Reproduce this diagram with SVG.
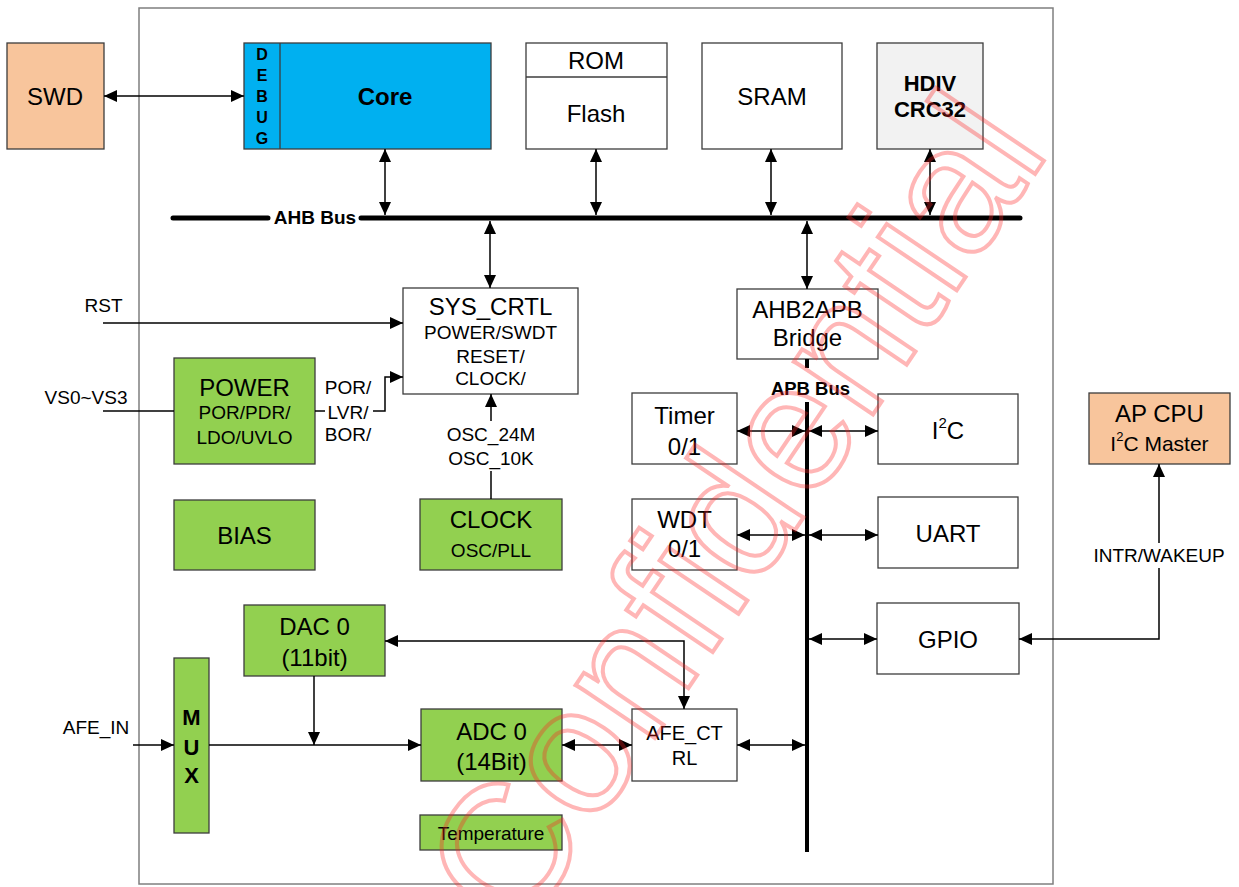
<svg xmlns="http://www.w3.org/2000/svg" width="1239" height="887" viewBox="0 0 1239 887">
<defs>
<style>
.bx{fill:#fff;stroke:#3c3c3c;stroke-width:1.3}
.gr{fill:#92D050;stroke:#3c3c3c;stroke-width:1.3}
.pe{fill:#F8C59C;stroke:#3c3c3c;stroke-width:1.3}
.bl{fill:#00B0F0;stroke:#3c3c3c;stroke-width:1.3}
.gy{fill:#F2F2F2;stroke:#3c3c3c;stroke-width:1.3}
text{font-family:"Liberation Sans",Arial,sans-serif;fill:#000;text-anchor:middle;dominant-baseline:central}
.b{font-weight:bold}
.s24{font-size:24px}
.s20{font-size:20px}
.s19{font-size:19px}
.ln{fill:none;stroke:#000;stroke-width:1.5}
.ar{marker-end:url(#ah)}
.ar2{marker-start:url(#ah);marker-end:url(#ah)}
.bus{fill:none;stroke:#000;stroke-width:5;stroke-linecap:round}
</style>
<marker id="ah" viewBox="0 0 13 12" refX="13" refY="6" markerWidth="13" markerHeight="12" markerUnits="userSpaceOnUse" orient="auto-start-reverse">
<path d="M0,0 L13,6 L0,12 z" fill="#000"/>
</marker>
</defs>
<rect x="139" y="8" width="914" height="876" fill="#fff" stroke="#7f7f7f" stroke-width="1.5"/>

<g id="swd"><rect class="pe" x="7" y="43" width="97" height="106"/><text class="s24" x="55" y="96">SWD</text></g>
<g id="core">
<rect class="bl" x="244" y="43" width="247" height="106"/>
<line x1="280" y1="43" x2="280" y2="149" stroke="#3c3c3c" stroke-width="1.3"/>
<text class="b" style="font-size:16px" x="262" y="54">D</text>
<text class="b" style="font-size:16px" x="262" y="75">E</text>
<text class="b" style="font-size:16px" x="262" y="96">B</text>
<text class="b" style="font-size:16px" x="262" y="117">U</text>
<text class="b" style="font-size:16px" x="262" y="138">G</text>
<text class="b s24" x="385" y="96">Core</text>
</g>
<g id="romflash"><rect class="bx" x="526" y="43" width="141" height="106"/><line x1="526" y1="77" x2="667" y2="77" stroke="#3c3c3c" stroke-width="1.3"/>
<text class="s24" x="596" y="60">ROM</text><text class="s24" x="596" y="113">Flash</text></g>
<g id="sram"><rect class="bx" x="702" y="43" width="140" height="106"/><text class="s24" x="772" y="96">SRAM</text></g>
<g id="hdiv"><rect class="gy" x="877" y="43" width="106" height="106"/><text class="b" style="font-size:22px" x="930" y="83">HDIV</text><text class="b" style="font-size:22px" x="930" y="109">CRC32</text></g>

<g id="sysctrl"><rect class="bx" x="403" y="288" width="175" height="106"/>
<text class="s24" x="490.5" y="306">SYS_CRTL</text>
<text class="s19" x="490.5" y="332">POWER/SWDT</text>
<text class="s19" x="490.5" y="356">RESET/</text>
<text class="s19" x="490.5" y="378">CLOCK/</text></g>
<g id="power"><rect class="gr" x="174" y="358" width="141" height="106"/>
<text class="s24" x="244.5" y="387">POWER</text>
<text class="s19" x="244.5" y="412">POR/PDR/</text>
<text class="s19" x="244.5" y="437">LDO/UVLO</text></g>
<g id="bias"><rect class="gr" x="174" y="500" width="141" height="70"/><text class="s24" x="244.5" y="535">BIAS</text></g>
<g id="clock"><rect class="gr" x="420" y="499" width="142" height="71"/><text class="s24" x="491" y="519">CLOCK</text><text class="s19" x="491" y="550">OSC/PLL</text></g>
<g id="ahb2apb"><rect class="bx" x="737" y="289" width="141" height="70"/><text class="s24" x="807.5" y="309">AHB2APB</text><text class="s24" x="807.5" y="337">Bridge</text></g>
<g id="timer"><rect class="bx" x="632" y="393" width="105" height="71"/><text class="s24" x="684.5" y="415">Timer</text><text class="s24" x="684.5" y="446">0/1</text></g>
<g id="wdt"><rect class="bx" x="632" y="499" width="105" height="71"/><text class="s24" x="684.5" y="519">WDT</text><text class="s24" x="684.5" y="548">0/1</text></g>
<g id="i2c"><rect class="bx" x="878" y="394" width="140" height="70"/><text class="s24" x="948" y="430">I<tspan dy="-8" style="font-size:15px">2</tspan><tspan dy="8">C</tspan></text></g>
<g id="uart"><rect class="bx" x="878" y="497" width="140" height="71"/><text class="s24" x="948" y="533">UART</text></g>
<g id="gpio"><rect class="bx" x="877" y="603" width="142" height="71"/><text class="s24" x="948" y="639">GPIO</text></g>
<g id="apcpu"><rect class="pe" x="1089" y="393" width="141" height="71"/><text class="s24" x="1159.5" y="413">AP CPU</text><text style="font-size:21px" x="1159.5" y="443">I<tspan dy="-7" style="font-size:13px">2</tspan><tspan dy="7">C Master</tspan></text></g>
<g id="dac"><rect class="gr" x="244" y="605" width="141" height="71"/><text class="s24" x="314.5" y="626">DAC 0</text><text class="s24" x="314.5" y="657">(11bit)</text></g>
<g id="mux"><rect class="gr" x="174" y="658" width="35" height="175"/>
<text class="b" style="font-size:22px" x="191.5" y="717">M</text><text class="b" style="font-size:22px" x="191.5" y="747">U</text><text class="b" style="font-size:22px" x="191.5" y="775">X</text></g>
<g id="adc"><rect class="gr" x="421" y="709" width="141" height="72"/><text class="s24" x="491.5" y="731">ADC 0</text><text class="s24" x="491.5" y="761">(14Bit)</text></g>
<g id="afectrl"><rect class="bx" x="632" y="709" width="105" height="72"/><text class="s20" x="684.5" y="733">AFE_CT</text><text class="s20" x="684.5" y="758">RL</text></g>
<g id="temp"><rect class="gr" x="420" y="815" width="142" height="35"/><text class="s19" x="491" y="833">Temperature</text></g>

<g id="labels">
<text class="s19" x="103.5" y="305">RST</text>
<text class="s19" x="86" y="397">VS0~VS3</text>
<text class="s19" x="348" y="387">POR/</text>
<text class="s19" x="348" y="412">LVR/</text>
<text class="s19" x="348" y="434">BOR/</text>
<text class="s19" x="491" y="434">OSC_24M</text>
<text class="s19" x="491" y="458">OSC_10K</text>
<text class="s19" x="96" y="727">AFE_IN</text>
</g>

<g id="connectors">
<path class="bus" d="M173,218 H268 M361,218 H1020"/>
<text class="b s19" x="315" y="217">AHB Bus</text>
<path d="M807,359 V368 M807,402 V852" fill="none" stroke="#000" stroke-width="4"/>
<text class="b" style="font-size:18.5px" x="810.5" y="388">APB Bus</text>
<line class="ln ar2" x1="104" y1="96" x2="244" y2="96"/>
<line class="ln ar2" x1="385" y1="149" x2="385" y2="215"/>
<line class="ln ar2" x1="596" y1="149" x2="596" y2="215"/>
<line class="ln ar2" x1="771" y1="149" x2="771" y2="215"/>
<line class="ln ar2" x1="930" y1="149" x2="930" y2="215"/>
<line class="ln ar2" x1="490" y1="221" x2="490" y2="288"/>
<line class="ln ar2" x1="807" y1="221" x2="807" y2="289"/>
<line class="ln ar" x1="103" y1="323" x2="403" y2="323"/>
<line class="ln" x1="103" y1="411" x2="174" y2="411"/>
<path class="ln" d="M315,411 H325"/>
<path class="ln ar" d="M373,411 H385 V377 H403"/>
<line class="ln ar" x1="491" y1="421" x2="491" y2="394"/>
<line class="ln" x1="491" y1="471" x2="491" y2="499"/>
<line class="ln ar2" x1="737" y1="431" x2="805" y2="431"/>
<line class="ln ar2" x1="809" y1="431" x2="878" y2="431"/>
<line class="ln ar2" x1="737" y1="535" x2="805" y2="535"/>
<line class="ln ar2" x1="809" y1="535" x2="878" y2="535"/>
<line class="ln ar2" x1="809" y1="639" x2="877" y2="639"/>
<path class="ln ar2" d="M1019,639 H1159 V464"/>
<rect x="1098" y="543" width="122" height="25" fill="#fff"/>
<text class="s19" x="1159" y="555">INTR/WAKEUP</text>
<line class="ln ar" x1="133" y1="745" x2="174" y2="745"/>
<line class="ln ar" x1="209" y1="745" x2="421" y2="745"/>
<line class="ln ar" x1="314" y1="676" x2="314" y2="745"/>
<path class="ln ar2" d="M385,641 H684 V709"/>
<line class="ln ar2" x1="562" y1="745" x2="632" y2="745"/>
<line class="ln ar2" x1="737" y1="745" x2="805" y2="745"/>
</g>

<text x="0" y="0" transform="translate(733,510) rotate(-56)" style="font-size:180px;fill:none;stroke:#ff2020;stroke-opacity:0.33;stroke-width:4">Confidential</text>
</svg>
